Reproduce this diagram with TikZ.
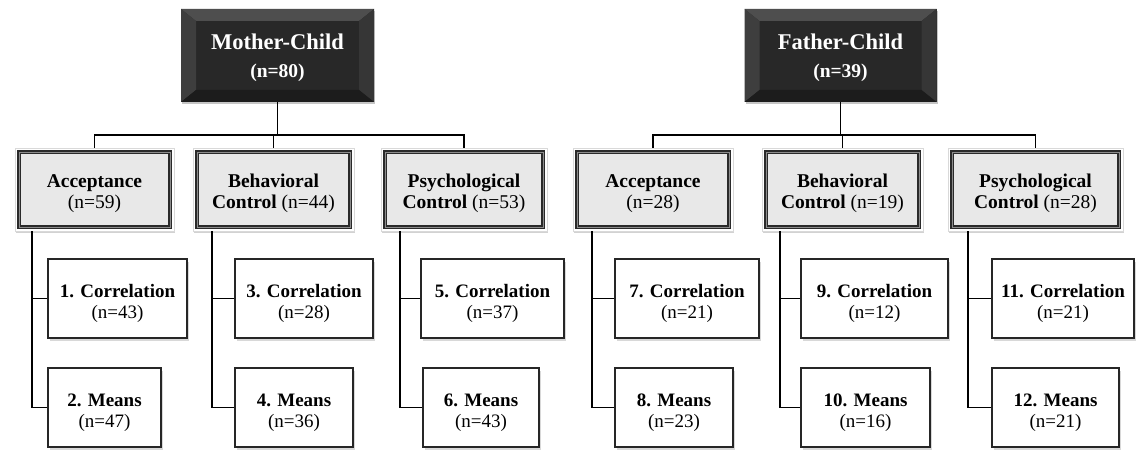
\documentclass[tikz,border=0pt]{standalone}
\usepackage{fontspec}
\setmainfont{Liberation Serif}
\usetikzlibrary{shadows}
\definecolor{face}{HTML}{282828}
\definecolor{bevtop}{HTML}{4E4E4E}
\definecolor{bevleft}{HTML}{3e3e3e}
\definecolor{bevright}{HTML}{363636}
\definecolor{bevbot}{HTML}{1c1c1c}
\definecolor{catfill}{HTML}{E8E8E8}
\definecolor{catline}{HTML}{2A2A2A}
\newcommand{\strA}{\rule{0pt}{22pt}}
\newcommand{\strB}{\rule{0pt}{23pt}}
\begin{document}
\begin{tikzpicture}[x=1pt,y=-1pt,
  topbox/.style={minimum width=193pt, minimum height=93pt, inner sep=0pt, fill=face,
    align=center, text=white, font=\bfseries,
    drop shadow={opacity=0.45, shadow xshift=1pt, shadow yshift=-2.5pt},
    path picture={
      \coordinate (pnw) at (path picture bounding box.north west);
      \coordinate (pne) at (path picture bounding box.north east);
      \coordinate (psw) at (path picture bounding box.south west);
      \coordinate (pse) at (path picture bounding box.south east);
      \fill[bevtop] (pnw) -- (pne) -- ([shift={(-15,12)}]pne) -- ([shift={(15,12)}]pnw) -- cycle;
      \fill[bevleft] (pnw) -- ([shift={(15,12)}]pnw) -- ([shift={(15,-12)}]psw) -- (psw) -- cycle;
      \fill[bevright] (pne) -- ([shift={(-15,12)}]pne) -- ([shift={(-15,-12)}]pse) -- (pse) -- cycle;
      \fill[bevbot] (psw) -- ([shift={(15,-12)}]psw) -- ([shift={(-15,-12)}]pse) -- (pse) -- cycle;
    }},
  catbox/.style={minimum height=83pt, inner sep=0pt, fill=white, draw=black!15, line width=0.6pt,
    align=center, font=\fontsize{19.5}{21}\selectfont,
    drop shadow={opacity=0.35, shadow xshift=1.2pt, shadow yshift=-2pt},
    path picture={
      \draw[sharp corners, draw=catline, line width=1.3pt, double=black!45, double distance=0.7pt, fill=catfill]
        ([shift={(4,4)}]path picture bounding box.north west) rectangle
        ([shift={(-4,-4)}]path picture bounding box.south east);
    }},
  leafbox/.style={minimum height=79pt, inner sep=0pt, fill=white, draw=black!85, line width=1.3pt,
    align=center, font=\fontsize{19}{20.5}\selectfont,
    drop shadow={opacity=0.3, shadow xshift=1.5pt, shadow yshift=-2.5pt}},
  conn/.style={draw=black, line width=1.7pt}
]
\useasboundingbox (0,0) rectangle (1136,452);
\fill[white] (0,0) rectangle (1136,452);

% top boxes
\node[topbox] (M) at (277.5,55.5) {{\fontsize{22.5}{26}\selectfont\rule{0pt}{20pt}Mother-Child}\\[13pt]{\fontsize{19.5}{22}\selectfont (n=80)}};
\node[topbox, minimum width=192pt] (F) at (840.5,55.5) {{\fontsize{22.5}{26}\selectfont\rule{0pt}{20pt}Father-Child}\\[13pt]{\fontsize{19.5}{22}\selectfont (n=39)}};

% level 2
\node[catbox, minimum width=159pt] (MA) at (94.5,189.5) {\strA\textbf{Acceptance}\\(n=59)};
\node[catbox, minimum width=161pt] (MB) at (273.5,189.5) {\strA\textbf{Behavioral}\\\textbf{Control} (n=44)};
\node[catbox, minimum width=166pt] (MP) at (464,189.5) {\strA\textbf{Psychological}\\\textbf{Control} (n=53)};
\node[catbox, minimum width=160pt] (FA) at (653,189.5) {\strA\textbf{Acceptance}\\(n=28)};
\node[catbox, minimum width=161pt] (FB) at (842.5,189.5) {\strA\textbf{Behavioral}\\\textbf{Control} (n=19)};
\node[catbox, minimum width=175pt] (FP) at (1035.5,189.5) {\strA\textbf{Psychological}\\\textbf{Control} (n=28)};

% level 3
\node[leafbox, minimum width=139pt] (M1) at (117.5,298.5) {\strB\textbf{1. Correlation}\\(n=43)};
\node[leafbox, minimum width=113pt] (M2) at (104.5,407.5) {\strB\textbf{2. Means}\\(n=47)};
\node[leafbox, minimum width=138pt] (M3) at (304,298.5) {\strB\textbf{3. Correlation}\\(n=28)};
\node[leafbox, minimum width=118pt] (M4) at (294,407.5) {\strB\textbf{4. Means}\\(n=36)};
\node[leafbox, minimum width=143pt] (M5) at (492.5,298.5) {\strB\textbf{5. Correlation}\\(n=37)};
\node[leafbox, minimum width=116pt] (M6) at (481,407.5) {\strB\textbf{6. Means}\\(n=43)};
\node[leafbox, minimum width=144pt] (F7) at (687,298.5) {\strB\textbf{7. Correlation}\\(n=21)};
\node[leafbox, minimum width=118pt] (F8) at (674,407.5) {\strB\textbf{8. Means}\\(n=23)};
\node[leafbox, minimum width=147pt] (F9) at (874.5,298.5) {\strB\textbf{9. Correlation}\\(n=12)};
\node[leafbox, minimum width=129pt] (F10) at (865.5,407.5) {\strB\textbf{10. Means}\\(n=16)};
\node[leafbox, minimum width=142pt] (F11) at (1063,298.5) {\strB\textbf{11. Correlation}\\(n=21)};
\node[leafbox, minimum width=127pt] (F12) at (1055.5,407.5) {\strB\textbf{12. Means}\\(n=21)};

% top connectors
\draw[conn] (M.south) -- ++(0,33) coordinate (mj);
\draw[conn] (mj) -| (MA.north);
\draw[conn] (mj) -| (MB.north);
\draw[conn] (mj) -| (MP.north);
\draw[conn] (F.south) -- ++(0,33) coordinate (fj);
\draw[conn] (fj) -| (FA.north);
\draw[conn] (fj) -| (FB.north);
\draw[conn] (fj) -| (FP.north);

% trunk connectors
\foreach \p/\a/\b/\s in {MA/M1/M2/17, MB/M3/M4/19, MP/M5/M6/19, FA/F7/F8/19, FB/F9/F10/18, FP/F11/F12/20}{
  \draw[conn] ([xshift=\s pt]\p.south west) |- (\a.west);
  \draw[conn] ([xshift=\s pt]\p.south west) |- (\b.west);
}
\end{tikzpicture}
\end{document}
